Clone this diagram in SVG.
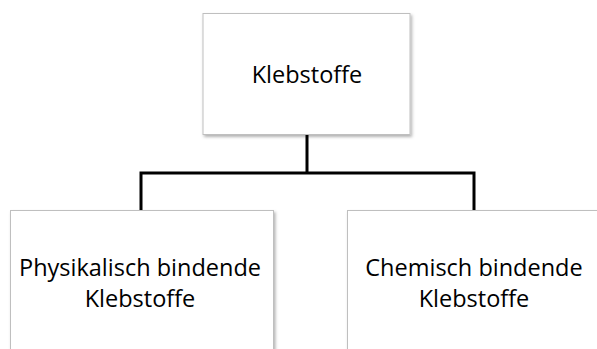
<svg xmlns="http://www.w3.org/2000/svg" width="597" height="349" viewBox="0 0 597 349">
<defs>
<filter id="sh" x="-10%" y="-10%" width="130%" height="130%">
<feDropShadow dx="1.5" dy="2" stdDeviation="1.5" flood-color="#000" flood-opacity="0.3"/>
</filter>
<style>
.box{fill:#fff;stroke:#bfbfbf;stroke-width:1;filter:url(#sh)}
.t{font-family:"Open Sans","Liberation Sans",sans-serif;font-size:23.5px;fill:#000;text-anchor:middle}
.c{fill:none;stroke:#000;stroke-width:3}
</style>
</defs>
<rect width="597" height="349" fill="#fff"/>
<g id="connectors">
<path class="c" d="M307,135 V173 M141,210 V173 H474 V210"/>
</g>
<g id="root">
<rect class="box" x="203" y="13.5" width="207" height="121"/>
<text class="t" x="307" y="83">Klebstoffe</text>
</g>
<g id="physical">
<rect class="box" x="10.5" y="210.5" width="263" height="150"/>
<text class="t" x="140" y="276">Physikalisch bindende</text>
<text class="t" x="140" y="307">Klebstoffe</text>
</g>
<g id="chemical">
<rect class="box" x="347.5" y="210.5" width="263" height="150"/>
<text class="t" x="474" y="276">Chemisch bindende</text>
<text class="t" x="474" y="307">Klebstoffe</text>
</g>
</svg>
